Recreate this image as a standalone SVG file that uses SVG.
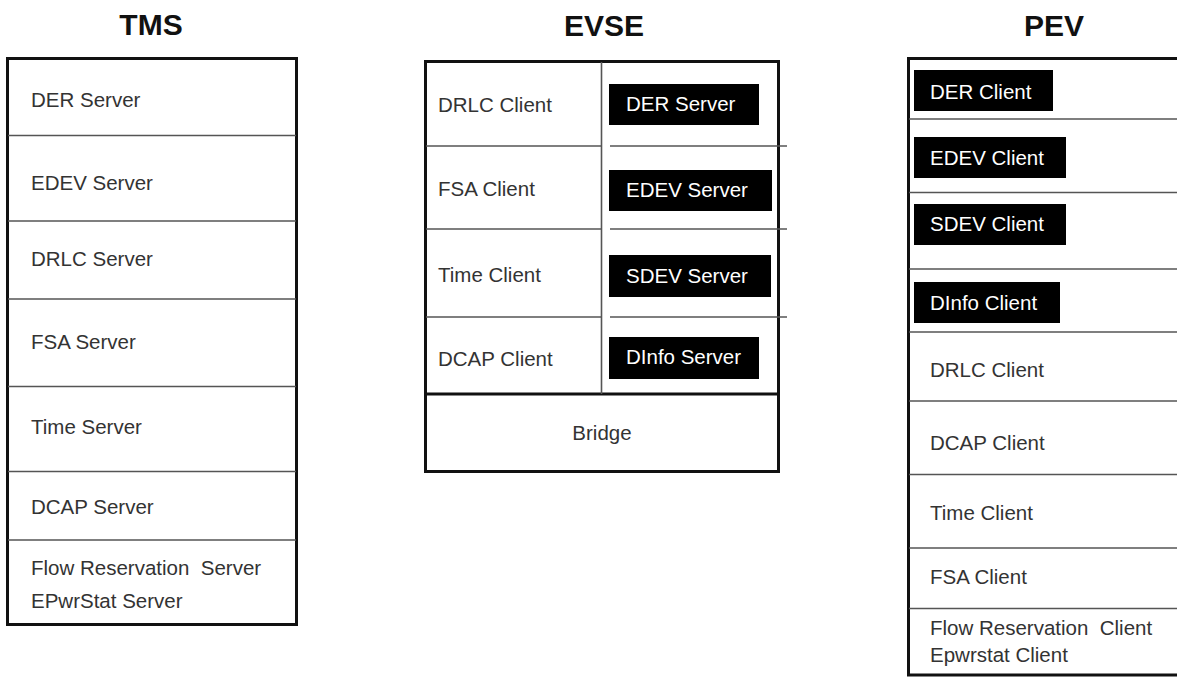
<svg xmlns="http://www.w3.org/2000/svg" width="1177" height="677" viewBox="0 0 1177 677">
<style>
.title{font-family:"Liberation Sans",Arial,sans-serif;font-weight:bold;font-size:30px;fill:#111;text-anchor:middle}
.t{font-family:"Liberation Sans",Arial,sans-serif;font-size:20.5px;fill:#333}
.w{font-family:"Liberation Sans",Arial,sans-serif;font-size:20.5px;fill:#fff}
.box{fill:#fff;stroke:#111;stroke-width:3}
.div{stroke:#555;stroke-width:1.6;fill:none}
.blk{fill:#000}
</style>
<rect width="1177" height="677" fill="#fff"/>
<g id="tms">
<text class="title" x="151" y="35">TMS</text>
<rect class="box" x="7.5" y="58.5" width="289" height="566"/>
<g class="div">
<line x1="8" y1="135.5" x2="296" y2="135.5"/>
<line x1="8" y1="221" x2="296" y2="221"/>
<line x1="8" y1="299" x2="296" y2="299"/>
<line x1="8" y1="386.5" x2="296" y2="386.5"/>
<line x1="8" y1="471.5" x2="296" y2="471.5"/>
<line x1="8" y1="540" x2="296" y2="540"/>
</g>
<text class="t" x="31" y="107">DER Server</text>
<text class="t" x="31" y="190">EDEV Server</text>
<text class="t" x="31" y="266">DRLC Server</text>
<text class="t" x="31" y="349">FSA Server</text>
<text class="t" x="31" y="434">Time Server</text>
<text class="t" x="31" y="514">DCAP Server</text>
<text class="t" x="31" y="575" xml:space="preserve">Flow Reservation  Server</text>
<text class="t" x="31" y="608">EPwrStat Server</text>
</g>
<g id="evse">
<text class="title" x="604" y="36">EVSE</text>
<rect class="box" x="425.5" y="61.5" width="353" height="410"/>
<line x1="425" y1="394" x2="779" y2="394" stroke="#111" stroke-width="3"/>
<line class="div" x1="601.5" y1="62" x2="601.5" y2="394"/>
<g class="div">
<line x1="426" y1="146" x2="601" y2="146"/>
<line x1="426" y1="229" x2="601" y2="229"/>
<line x1="426" y1="317" x2="601" y2="317"/>
<line x1="610" y1="146" x2="787" y2="146"/>
<line x1="610" y1="229" x2="787" y2="229"/>
<line x1="610" y1="317" x2="787" y2="317"/>
</g>
<rect class="blk" x="609" y="84" width="150" height="41"/>
<rect class="blk" x="609" y="170" width="163" height="41"/>
<rect class="blk" x="609" y="255" width="162" height="42"/>
<rect class="blk" x="609" y="337" width="150" height="42"/>
<text class="w" x="626" y="111">DER Server</text>
<text class="w" x="626" y="197">EDEV Server</text>
<text class="w" x="626" y="283">SDEV Server</text>
<text class="w" x="626" y="364">DInfo Server</text>
<text class="t" x="438" y="112">DRLC Client</text>
<text class="t" x="438" y="196">FSA Client</text>
<text class="t" x="438" y="282">Time Client</text>
<text class="t" x="438" y="366">DCAP Client</text>
<text class="t" x="602" y="440" text-anchor="middle">Bridge</text>
</g>
<g id="pev">
<text class="title" x="1054" y="36">PEV</text>
<path d="M1180 58.5 H908.5 V675 H1180" fill="#fff" stroke="#111" stroke-width="3"/>
<g class="div">
<line x1="909" y1="119" x2="1177" y2="119"/>
<line x1="909" y1="192.5" x2="1177" y2="192.5"/>
<line x1="909" y1="269" x2="1177" y2="269"/>
<line x1="909" y1="332" x2="1177" y2="332"/>
<line x1="909" y1="401" x2="1177" y2="401"/>
<line x1="909" y1="474.5" x2="1177" y2="474.5"/>
<line x1="909" y1="548" x2="1177" y2="548"/>
<line x1="909" y1="608.5" x2="1177" y2="608.5"/>
</g>
<rect class="blk" x="914" y="70" width="139" height="41"/>
<rect class="blk" x="914" y="137" width="152" height="41"/>
<rect class="blk" x="914" y="204" width="152" height="41"/>
<rect class="blk" x="914" y="282" width="146" height="41"/>
<text class="w" x="930" y="99">DER Client</text>
<text class="w" x="930" y="165">EDEV Client</text>
<text class="w" x="930" y="231">SDEV Client</text>
<text class="w" x="930" y="310">DInfo Client</text>
<text class="t" x="930" y="377">DRLC Client</text>
<text class="t" x="930" y="450">DCAP Client</text>
<text class="t" x="930" y="520">Time Client</text>
<text class="t" x="930" y="584">FSA Client</text>
<text class="t" x="930" y="635" xml:space="preserve">Flow Reservation  Client</text>
<text class="t" x="930" y="662">Epwrstat Client</text>
</g>
</svg>
